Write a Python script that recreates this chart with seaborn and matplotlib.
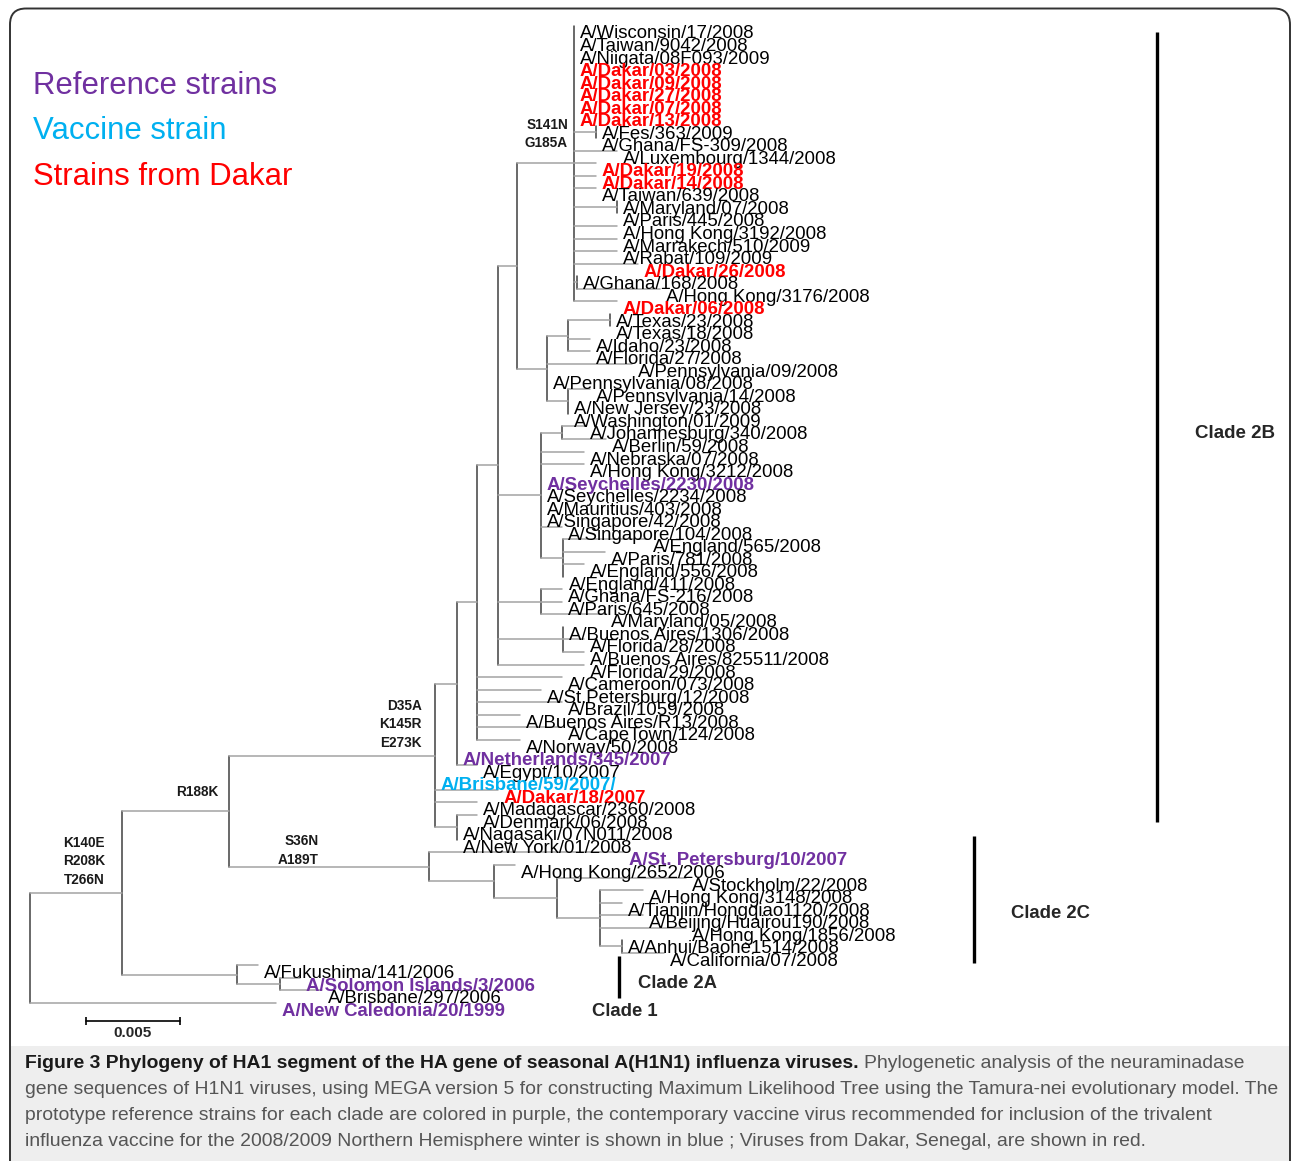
import matplotlib
matplotlib.use("Agg")
import matplotlib.pyplot as plt
from matplotlib import font_manager
from matplotlib.patches import FancyBboxPatch, Rectangle
import numpy as np
import pandas as pd
import seaborn as sns

# ---------------- tree data (branch lengths in substitutions/site) ----------------
# internal nodes, parents are listed before their children
node_names = ["root", "N1", "N2", "N3", "N4", "N5", "N6", "N7", "Ntop", "Nfg", "Nmp", "Ngh",
              "Nusa", "Ntx2", "Ntx", "Npa14", "N8", "Njoh", "Neng", "N9", "N10", "Nnag",
              "N2C", "N2C2", "N2C3", "N2C4", "Nanh", "Nfuk", "Nsol"]
node_parents = [None, "root", "N1", "N2", "N3", "N4", "N5", "N6", "N7", "Ntop", "Ntop", "Ntop",
                "N7", "Nusa", "Ntx2", "Nusa", "N6", "N8", "N8", "N6", "N6", "N3",
                "N2", "N2C", "N2C2", "N2C3", "N2C4", "N1", "Nfuk"]
node_branch = [0.0, 0.00489, 0.00569, 0.01096, 0.00117, 0.00106, 0.00112, 0.00101, 0.00303,
               0.00117, 0.00229, 0.00016,
               0.00160, 0.00112, 0.00223, 0.00112, 0.00229, 0.00112, 0.00117, 0.00229, 0.00346,
               0.00117,
               0.01064, 0.00346, 0.00335, 0.00229, 0.00117, 0.00612, 0.00229]

leaf_names = [
    "A/Wisconsin/17/2008", "A/Taiwan/9042/2008", "A/Niigata/08F093/2009",
    "A/Dakar/03/2008", "A/Dakar/09/2008", "A/Dakar/27/2008", "A/Dakar/07/2008", "A/Dakar/13/2008",
    "A/Fes/363/2009", "A/Ghana/FS-309/2008", "A/Luxembourg/1344/2008",
    "A/Dakar/19/2008", "A/Dakar/14/2008", "A/Taiwan/639/2008",
    "A/Maryland/07/2008", "A/Paris/445/2008", "A/Hong Kong/3192/2008",
    "A/Marrakech/510/2009", "A/Rabat/109/2009",
    "A/Dakar/26/2008", "A/Ghana/168/2008", "A/Hong Kong/3176/2008", "A/Dakar/06/2008",
    "A/Texas/23/2008", "A/Texas/18/2008", "A/Idaho/23/2008", "A/Florida/27/2008",
    "A/Pennsylvania/09/2008", "A/Pennsylvania/08/2008", "A/Pennsylvania/14/2008",
    "A/New Jersey/23/2008", "A/Washington/01/2009",
    "A/Johannesburg/340/2008", "A/Berlin/59/2008", "A/Nebraska/07/2008", "A/Hong Kong/3212/2008",
    "A/Seychelles/2230/2008", "A/Seychelles/2234/2008", "A/Mauritius/403/2008",
    "A/Singapore/42/2008", "A/Singapore/104/2008",
    "A/England/565/2008", "A/Paris/781/2008", "A/England/556/2008", "A/England/411/2008",
    "A/Ghana/FS-216/2008", "A/Paris/645/2008", "A/Maryland/05/2008",
    "A/Buenos Aires/1306/2008", "A/Florida/28/2008", "A/Buenos Aires/825511/2008",
    "A/Florida/29/2008",
    "A/Cameroon/073/2008", "A/St.Petersburg/12/2008", "A/Brazil/1059/2008",
    "A/Buenos Aires/R13/2008", "A/CapeTown/124/2008", "A/Norway/50/2008",
    "A/Netherlands/345/2007", "A/Egypt/10/2007", "A/Brisbane/59/2007/", "A/Dakar/18/2007",
    "A/Madagascar/2360/2008", "A/Denmark/06/2008", "A/Nagasaki/07N011/2008", "A/New York/01/2008",
    "A/St. Petersburg/10/2007", "A/Hong Kong/2652/2006", "A/Stockholm/22/2008",
    "A/Hong Kong/3148/2008", "A/Tianjin/Hongqiao1120/2008", "A/Beijing/Huairou190/2008",
    "A/Hong Kong/1856/2008", "A/Anhui/Baohe1514/2008", "A/California/07/2008",
    "A/Fukushima/141/2006", "A/Solomon Islands/3/2006", "A/Brisbane/297/2006",
    "A/New Caledonia/20/1999",
]
leaf_parents = (["Ntop"] * 8 + ["Nfg"] * 2 + ["Ntop"] * 4 + ["Nmp"] * 2 + ["Ntop"] * 4
                + ["Ngh"] * 2 + ["Ntop"] + ["Ntx"] * 2 + ["Ntx2"] * 2 + ["Nusa"] * 2
                + ["Npa14"] * 3 + ["Njoh"] * 2 + ["N8"] * 7 + ["Neng"] * 4 + ["N9"] * 3
                + ["N10"] * 3 + ["N6"] + ["N5"] * 6 + ["N4"] * 2 + ["N3"] * 3 + ["Nnag"] * 3
                + ["N2C", "N2C2", "N2C3"] + ["N2C4"] * 4 + ["Nanh"] * 2 + ["Nfuk"]
                + ["Nsol"] * 2 + ["root"])
leaf_branch = [0, 0, 0, 0, 0, 0, 0, 0, 0, 0, 0.00229,
               0.00117, 0.00117, 0.00117, 0, 0, 0.00229, 0.00229, 0.00229,
               0.00340, 0, 0.00441, 0.00229,
               0, 0, 0.00117, 0.00117, 0.00452, 0, 0.00117, 0, 0,
               0.00117, 0.00234, 0.00229, 0.00229, 0, 0, 0, 0, 0.00112,
               0.00447, 0.00223, 0.00112, 0, 0.00112, 0.00112, 0.00340,
               0, 0.00112, 0.00112, 0.00457,
               0.00452, 0.00340, 0.00452, 0.00229, 0.00452, 0.00229,
               0, 0.00106, 0, 0.00335, 0.00223, 0.00106, 0, 0,
               0.01032, 0.00112, 0.00686, 0.00229, 0.00117, 0.00229, 0.00457, 0, 0.00223,
               0.00112, 0.00106, 0.00223, 0.01309]
leaf_group = ["o", "o", "o", "dak", "dak", "dak", "dak", "dak", "o", "o", "o",
              "dak", "dak", "o", "o", "o", "o", "o", "o",
              "dak", "o", "o", "dak",
              "o", "o", "o", "o", "o", "o", "o", "o", "o",
              "o", "o", "o", "o", "ref", "o", "o", "o", "o",
              "o", "o", "o", "o", "o", "o", "o",
              "o", "o", "o", "o",
              "o", "o", "o", "o", "o", "o",
              "ref", "o", "vac", "dak", "o", "o", "o", "o",
              "ref", "o", "o", "o", "o", "o", "o", "o", "o",
              "o", "ref", "o", "ref"]

group_colors = {"o": "black", "ref": "#7030A0", "vac": "#00B0F0", "dak": "#FF0000"}

# amino-acid changes written on the stem of a node
mutation_nodes = ["N1", "N2", "N3", "N2C", "Ntop"]
mutation_text = [["K140E", "R208K", "T266N"], ["R188K"], ["D35A", "K145R", "E273K"],
                 ["S36N", "A189T"], ["S141N", "G185A"]]

clade_names = ["Clade 2B", "Clade 2C", "Clade 2A", "Clade 1"]

legend_labels = ["Reference strains", "Vaccine strain", "Strains from Dakar"]
legend_groups = ["ref", "vac", "dak"]

SCALE_BAR = 0.005

caption_bold = ("Figure 3 Phylogeny of HA1 segment of the HA gene of seasonal "
                "A(H1N1) influenza viruses.")
caption_lines = [
    "Phylogenetic analysis of the neuraminadase",
    "gene sequences of H1N1 viruses, using MEGA version 5 for constructing Maximum "
    "Likelihood Tree using the Tamura-nei evolutionary model. The",
    "prototype reference strains for each clade are colored in purple, the contemporary "
    "vaccine virus recommended for inclusion of the trivalent",
    "influenza vaccine for the 2008/2009 Northern Hemisphere winter is shown in blue ; "
    "Viruses from Dakar, Senegal, are shown in red.",
]

# ---------------- layout ----------------
W, H = 1292, 1161
ROOT_PX = 30.0
PX_PER_UNIT = 18800.0     # 0.005 subst/site -> 94 px
LEAF0_PX = 25.5
PX_PER_LEAF = 12.53


def px_x(p):
    return (p - ROOT_PX) / PX_PER_UNIT


def px_y(p):
    return (p - LEAF0_PX) / PX_PER_LEAF


def has_font(name):
    try:
        font_manager.findfont(font_manager.FontProperties(family=name),
                              fallback_to_default=False)
        return True
    except Exception:
        return False


sns.set_theme(style="white")
plt.rcParams["font.family"] = ["Liberation Sans", "DejaVu Sans"]
if has_font("Liberation Sans Narrow"):
    NARROW, NSCALE = "Liberation Sans Narrow", 1.0
else:
    NARROW, NSCALE = "Liberation Sans", 0.82

# ---------------- tree geometry ----------------
parent_of = dict(zip(node_names, node_parents))
depth = {}
for n, p, b in zip(node_names, node_parents, node_branch):
    depth[n] = 0.0 if p is None else depth[p] + b
leaf_depth = [depth[p] + b for p, b in zip(leaf_parents, leaf_branch)]

kids = {n: [] for n in node_names}
for n, p in zip(node_names, node_parents):
    if p is not None:
        kids[p].append(("node", n))
for i, p in enumerate(leaf_parents):
    kids[p].append(("leaf", i))

node_y, node_span = {}, {}


def get_y(n):
    if n not in node_y:
        ys = [float(c) if k == "leaf" else get_y(c) for k, c in kids[n]]
        node_span[n] = (min(ys), max(ys))
        node_y[n] = (min(ys) + max(ys)) / 2
    return node_y[n]


get_y("root")

rows = []
seg = 0
for n in node_names:
    p = parent_of[n]
    if p is not None:
        rows += [(seg, depth[p], node_y[n], "h"), (seg, depth[n], node_y[n], "h")]
        seg += 1
    lo, hi = node_span[n]
    rows += [(seg, depth[n], lo, "v"), (seg, depth[n], hi, "v")]
    seg += 1
for i, (p, b) in enumerate(zip(leaf_parents, leaf_branch)):
    if b > 0:
        rows += [(seg, depth[p], i, "h"), (seg, leaf_depth[i], i, "h")]
        seg += 1
seg_df = pd.DataFrame(rows, columns=["seg", "x", "y", "kind"])

# ---------------- figure ----------------
fig = plt.figure(figsize=(W / 100, H / 100), dpi=100)
frame = fig.add_axes([0, 0, 1, 1])
frame.set_xlim(0, W)
frame.set_ylim(H, 0)
frame.axis("off")

frame.add_patch(Rectangle((10, 1046), 1280, 130, fc="#eeeeee", ec="none", zorder=1))
frame.add_patch(FancyBboxPatch((10, 8.5), 1280, 1200,
                               boxstyle="round,pad=0,rounding_size=16",
                               fill=False, ec="#333333", lw=1.4, zorder=2))

ax = fig.add_axes([0, 0, 1, 1])
ax.set_xlim(px_x(0), px_x(W))
ax.set_ylim(px_y(H), px_y(0))
ax.axis("off")

sns.lineplot(data=seg_df, x="x", y="y", units="seg", estimator=None, hue="kind",
             palette={"h": "#a3a3a3", "v": "#404040"}, sort=False, legend=False,
             linewidth=1.1, ax=ax)

# leaf labels: sit a little below their branch, as in the MEGA export
lab_dx = 6 / PX_PER_UNIT
lab_dy = 8.5 / PX_PER_LEAF
for i, name in enumerate(leaf_names):
    g = leaf_group[i]
    ax.text(leaf_depth[i] + lab_dx, i + lab_dy, name, color=group_colors[g],
            fontsize=13.4, fontweight="bold" if g != "o" else "normal",
            ha="left", va="center")

# mutation labels (right edge as a fraction along the stem, gap above it in px)
mut_frac = [0.815, 0.897, 0.937, 0.45, 0.895]
mut_gap = [13, 19, 13, 7, 20]
line_step = 18.5 / PX_PER_LEAF
for n, lines, fr, gap in zip(mutation_nodes, mutation_text, mut_frac, mut_gap):
    p = parent_of[n]
    xr = depth[p] + fr * (depth[n] - depth[p])
    ylast = node_y[n] - gap / PX_PER_LEAF
    for k, txt in enumerate(lines):
        ax.text(xr, ylast - (len(lines) - 1 - k) * line_step, txt, fontsize=9.8,
                fontweight="bold", color="#1a1a1a", ha="right", va="center")

# clade bars and names
clade_bar_px = [1157, 974, 619, None]
clade_bar_top = [32, 836, 956, None]
clade_bar_bot = [822, 963, 998, None]
clade_lab_px = [(1195, 433), (1011, 913), (638, 983), (592, 1011)]
for k, name in enumerate(clade_names):
    if clade_bar_px[k] is not None:
        ax.vlines(px_x(clade_bar_px[k]), px_y(clade_bar_top[k]), px_y(clade_bar_bot[k]),
                  color="black", lw=2.4)
    lx, ly = clade_lab_px[k]
    if k == 0:
        ax.text(px_x(lx), px_y(ly), name, fontsize=13.5, fontweight="bold",
                ha="left", va="center")
    else:
        ax.text(px_x(lx), px_y(ly), name, fontsize=16.2 * NSCALE, fontweight="bold",
                family=NARROW, ha="left", va="center")

# scale bar
sb_x0 = px_x(86)
sb_y = px_y(1021)
ax.plot([sb_x0, sb_x0 + SCALE_BAR], [sb_y, sb_y], color="black", lw=1.2)
ax.vlines([sb_x0, sb_x0 + SCALE_BAR], sb_y - 0.3, sb_y + 0.3, color="black", lw=1.2)
ax.text(sb_x0 + SCALE_BAR / 2, px_y(1033), f"{SCALE_BAR:g}", fontsize=11,
        fontweight="bold", ha="center", va="center")

# colour legend
for k, (lab, g) in enumerate(zip(legend_labels, legend_groups)):
    frame.text(33, [86, 131, 177][k], lab, color=group_colors[g], family=NARROW,
               fontsize=27.4 * NSCALE, ha="left", va="center")

# caption, fitted to the width of the second line
cap_y = [1063, 1089, 1116, 1142]
t_bold = frame.text(25, cap_y[0], caption_bold, family=NARROW, fontweight="bold",
                    fontsize=16, color="#1a1a1a", ha="left", va="center", zorder=3)
cap_texts = []
for k, line in enumerate(caption_lines):
    cap_texts.append(frame.text(25, cap_y[k], line, family=NARROW, fontsize=16,
                                color="#555555", ha="left", va="center", zorder=3))
fig.canvas.draw()
r = fig.canvas.get_renderer()
scale = 1250 / cap_texts[1].get_window_extent(renderer=r).width
for t in [t_bold] + cap_texts:
    t.set_fontsize(16 * scale)
fig.canvas.draw()
cap_texts[0].set_x(t_bold.get_window_extent(renderer=r).x1 + 5)

fig.savefig("out.png", dpi=100)
